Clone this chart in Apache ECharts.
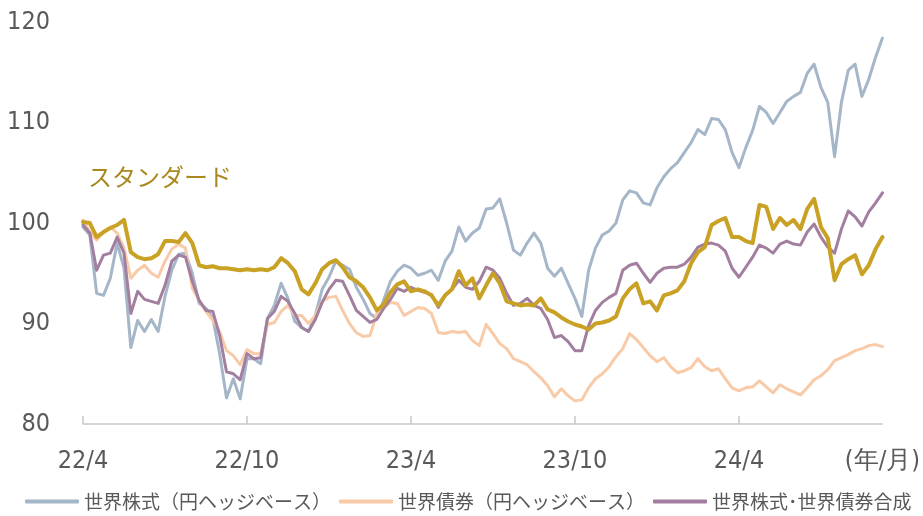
<!DOCTYPE html>
<html><head><meta charset="utf-8">
<script src="https://cdn.jsdelivr.net/npm/echarts@6/dist/echarts.min.js"></script>
<style>html,body{margin:0;padding:0;background:#fff}#c{width:923px;height:516px}</style>
</head><body><div id="c"></div>
<script>
// months since 2022/4 (weekly-ish sampling, 0.25 month step)
const months = Array.from({length:118}, (_, i) => i * 0.25);
const tickMonths = [0, 6, 12, 18, 24];
const tickLabels = ['22/4', '22/10', '23/4', '23/10', '24/4'];
const unitLabel = '(年/月)';
const seriesNames = ['世界株式（円ヘッジベース）', '世界債券（円ヘッジベース）', '世界株式･世界債券合成（円ヘッジベース）', 'スタンダード'];

const equity = [99.6,98.8,93.0,92.8,94.5,98.0,95.5,87.6,90.3,89.2,90.4,89.2,92.7,95.3,96.9,97.0,95.0,92.0,91.5,90.5,
87.0,82.6,84.5,82.5,86.5,86.5,86.0,90.5,91.8,94.0,92.5,90.2,89.6,89.2,90.8,93.4,94.6,96.2,95.8,95.4,
93.6,92.4,91.0,90.5,92.3,94.2,95.2,95.8,95.5,94.8,95.0,95.3,94.3,96.2,97.2,99.6,98.2,99.0,99.5,101.4,
101.5,102.4,100.0,97.3,96.8,98.0,99.0,98.0,95.5,94.7,95.5,94.0,92.5,90.7,95.3,97.5,98.8,99.2,100.0,102.3,
103.2,103.0,102.0,101.8,103.5,104.6,105.4,106.0,107.0,108.0,109.3,108.8,110.4,110.3,109.3,107.0,105.5,107.5,109.2,111.6,
111.0,109.9,111.0,112.1,112.6,113.0,114.9,115.8,113.5,112.0,106.6,112.0,115.2,115.8,112.6,114.3,116.5,118.4];

const bond = [100.3,99.1,98.3,99.1,99.6,99.0,97.5,94.5,95.3,95.8,95.0,94.6,96.2,97.4,97.9,97.5,93.5,92.3,91.2,90.3,
89.2,87.3,86.8,85.9,87.4,87.0,87.0,89.9,90.1,91.2,91.8,90.8,90.8,90.0,90.8,92.2,92.6,92.7,91.3,90.0,
89.1,88.7,88.8,91.0,91.6,92.1,92.0,90.8,91.2,91.6,91.5,91.0,89.1,89.0,89.2,89.1,89.2,88.3,87.8,89.9,
89.0,88.0,87.5,86.5,86.2,85.9,85.2,84.6,83.8,82.7,83.5,82.8,82.3,82.4,83.6,84.5,85.0,85.7,86.7,87.5,
89.0,88.4,87.6,86.8,86.2,86.6,85.7,85.1,85.3,85.6,86.5,85.7,85.3,85.5,84.5,83.6,83.3,83.6,83.7,84.3,
83.7,83.1,83.9,83.5,83.2,82.9,83.6,84.4,84.8,85.4,86.3,86.6,86.9,87.3,87.5,87.8,87.9,87.7];

const blend = [99.8,99.0,95.3,96.8,97.0,98.6,97.0,91.0,93.2,92.4,92.2,92.0,93.8,96.2,96.8,96.6,94.2,92.3,91.3,91.2,
88.8,85.2,85.0,84.4,87.0,86.5,86.6,90.5,91.2,92.7,92.2,91.0,89.6,89.2,90.4,92.1,93.4,94.3,94.2,92.8,
91.3,90.7,90.1,90.4,91.5,92.4,93.5,93.2,93.6,93.3,93.1,92.9,91.6,92.8,93.4,94.3,93.6,93.4,94.2,95.6,
95.3,94.5,93.0,91.8,92.0,92.5,91.8,91.5,90.4,88.6,88.8,88.2,87.3,87.3,89.8,91.3,92.1,92.6,93.0,95.3,
95.8,96.0,95.0,94.1,95.0,95.5,95.6,95.6,95.9,96.6,97.6,97.9,98.0,97.8,97.2,95.5,94.6,95.6,96.6,97.8,
97.5,97.0,97.9,98.2,97.9,97.8,99.1,99.9,98.6,97.6,97.0,99.4,101.2,100.6,99.7,101.1,102.0,103.0];

const standard = [100.1,100.0,98.6,99.1,99.5,99.8,100.3,97.1,96.6,96.4,96.5,96.9,98.2,98.2,98.1,99.0,98.0,95.8,95.6,95.7,
95.5,95.5,95.4,95.3,95.4,95.3,95.4,95.3,95.6,96.5,96.0,95.2,93.4,92.9,94.0,95.4,96.0,96.3,95.6,94.6,
94.2,93.6,92.6,91.3,91.9,93.1,93.9,94.2,93.2,93.4,93.2,92.8,91.8,92.8,93.4,95.2,93.8,94.5,92.5,93.8,
95.0,94.0,92.2,92.0,91.8,91.9,91.8,92.5,91.4,91.1,90.6,90.2,89.9,89.7,89.4,90.0,90.1,90.3,90.7,92.5,
93.4,94.0,92.0,92.2,91.3,92.8,93.0,93.3,94.2,96.0,97.1,97.6,99.8,100.2,100.5,98.6,98.6,98.2,98.0,101.8,
101.6,99.4,100.5,99.8,100.3,99.4,101.4,102.4,99.6,98.5,94.3,95.9,96.4,96.8,94.9,95.8,97.4,98.6];

const colors = ['#a5b6c8', '#f9caa7', '#a27f9f', '#c9a124'];
const widths = [3, 3, 3, 4];
const values = [equity, bond, blend, standard];

const chart = echarts.init(document.getElementById('c'), null, {renderer: 'canvas'});
const labelFont = '"DejaVu Sans Condensed", "DejaVu Sans", sans-serif';
chart.setOption({
  animation: false,
  backgroundColor: '#ffffff',
  grid: {left: 83, right: 33, top: 22, bottom: 92},
  xAxis: {
    type: 'value', min: 0, max: 29.25, interval: 6,
    splitLine: {show: false},
    axisLine: {show: true, lineStyle: {color: '#c8c8c8', width: 1.5}},
    axisTick: {show: true, inside: true, length: 8, lineStyle: {color: '#c8c8c8', width: 1.5}, customValues: tickMonths},
    axisLabel: {
      margin: 25, color: '#595959', fontSize: 25, fontFamily: labelFont,
      customValues: tickMonths.concat([29.25]),
      formatter: v => { const k = tickMonths.indexOf(v); return k >= 0 ? tickLabels[k] : unitLabel; }
    }
  },
  yAxis: {
    type: 'value', min: 80, max: 120, interval: 10,
    splitLine: {show: false}, axisLine: {show: false}, axisTick: {show: false},
    axisLabel: {margin: 33, color: '#595959', fontSize: 25, fontFamily: labelFont}
  },
  legend: {
    show: true, left: 20, top: 487, width: 1400, itemGap: 8,
    itemWidth: 54, itemHeight: 4, icon: 'roundRect',
    data: seriesNames.slice(0, 3),
    textStyle: {color: '#595959', fontSize: 19, fontFamily: '"Noto Sans CJK JP", sans-serif'}
  },
  graphic: [{
    type: 'text', left: 88, top: 165,
    style: {text: seriesNames[3], fill: '#a9881e', fontSize: 24, fontFamily: '"Noto Sans CJK JP", sans-serif'}
  }],
  series: values.map((arr, s) => ({
    name: seriesNames[s], type: 'line', symbol: 'none', smooth: false,
    data: arr.map((v, i) => [months[i], v]),
    lineStyle: {color: colors[s], width: widths[s], join: 'round', cap: 'round'},
    itemStyle: {color: colors[s]},
    z: 2 + s
  }))
});
</script></body></html>
